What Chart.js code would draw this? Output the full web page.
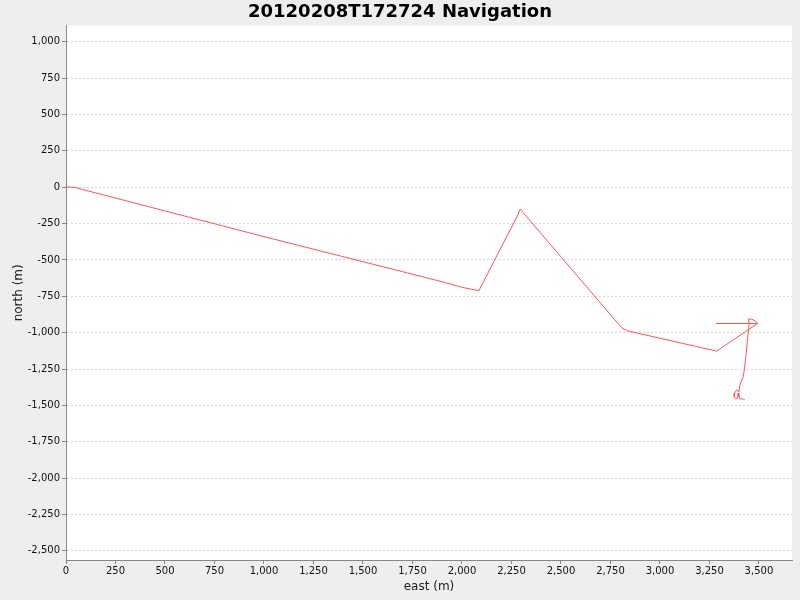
<!DOCTYPE html>
<html>
<head>
<meta charset="utf-8">
<script src="https://cdn.jsdelivr.net/npm/chart.js@4/dist/chart.umd.min.js"></script>
<style>
  html, body { margin: 0; padding: 0; background: #eeeeee; }
  #wrap { width: 800px; height: 600px; }
</style>
</head>
<body>
<div id="wrap"><canvas id="nav-chart" width="800" height="600"></canvas></div>
<script>
// Track (metres)
const eastValues = [0, 45, 1000, 1900, 2000, 2050, 2080, 2086, 2283, 2291, 2300, 2308,
    2807, 2838, 3286, 3493, 3283, 3493, 3483, 3463, 3446, 3451, 3446, 3443, 3434,
    3426, 3421, 3404, 3399, 3387, 3378, 3375, 3382, 3392, 3395, 3399, 3404, 3421, 3429];
const northValues = [3, -2, -340, -650, -688, -702, -710, -710, -189, -155, -155, -173,
    -967, -988, -1127, -937, -937, -937, -921, -907, -907, -935, -1003, -1038, -1164,
    -1256, -1302, -1359, -1407, -1394, -1416, -1440, -1456, -1451, -1416, -1440, -1456, -1456, -1463];

const xRange = [0, 3667];
const yRange = [-2563, 1111];
const tickStep = 250;

const points = eastValues.map((e, i) => ({ x: e, y: northValues[i] }));

// white plot background, and centre the title on the whole canvas
const plotBackground = {
    id: 'plotBackground',
    afterLayout(chart) {
        if (chart.titleBlock) {
            chart.titleBlock.left = 0;
            chart.titleBlock.right = chart.width;
            chart.titleBlock.width = chart.width;
        }
    },
    beforeDraw(chart) {
        const { ctx, chartArea } = chart;
        ctx.save();
        ctx.fillStyle = '#ffffff';
        ctx.fillRect(chartArea.left, chartArea.top, chartArea.right - chartArea.left, chartArea.bottom - chartArea.top);
        ctx.restore();
    }
};

const ctx = document.getElementById('nav-chart').getContext('2d');
const navChart = new Chart(ctx, {
    type: 'scatter',
    data: {
        datasets: [{
            label: 'Navigation',
            data: points,
            showLine: true,
            borderColor: '#ff5555',
            borderWidth: 1,
            pointRadius: 0,
            tension: 0
        }]
    },
    options: {
        responsive: false,
        animation: false,
        layout: { padding: { left: 0, right: 8, top: 0, bottom: 0 } },
        plugins: {
            legend: { display: false },
            tooltip: { enabled: false },
            title: {
                display: true,
                text: '20120208T172724 Navigation',
                color: '#000000',
                font: { family: 'DejaVu Sans', size: 18, weight: 'bold', lineHeight: 1.2 },
                padding: { top: 2, bottom: 2 }
            }
        },
        scales: {
            x: {
                type: 'linear',
                min: xRange[0],
                max: xRange[1],
                afterFit(scale) { scale.height = 40; },
                border: { color: '#888888', width: 1 },
                grid: { drawOnChartArea: false, drawTicks: true, tickLength: 4, tickColor: '#888888' },
                ticks: {
                    stepSize: tickStep,
                    includeBounds: false,
                    maxRotation: 0,
                    autoSkip: false,
                    padding: 1,
                    color: '#111111',
                    font: { family: 'DejaVu Sans', size: 10 }
                },
                title: {
                    display: true,
                    text: 'east (m)',
                    color: '#222222',
                    font: { family: 'DejaVu Sans', size: 12 },
                    padding: { top: 2, bottom: 6 }
                }
            },
            y: {
                type: 'linear',
                min: yRange[0],
                max: yRange[1],
                afterFit(scale) { scale.width = 66; },
                border: { color: '#888888', width: 1, dash: [2, 2] },
                grid: {
                    color: '#d8d8d8',
                    tickBorderDash: [],
                    tickLength: 4,
                    tickColor: '#888888'
                },
                ticks: {
                    stepSize: tickStep,
                    includeBounds: false,
                    autoSkip: false,
                    padding: 2,
                    color: '#111111',
                    font: { family: 'DejaVu Sans', size: 10 }
                },
                title: {
                    display: true,
                    text: 'north (m)',
                    color: '#222222',
                    font: { family: 'DejaVu Sans', size: 12 },
                    padding: { top: 12, bottom: 2 }
                }
            }
        }
    },
    plugins: [plotBackground]
});
</script>
</body>
</html>
